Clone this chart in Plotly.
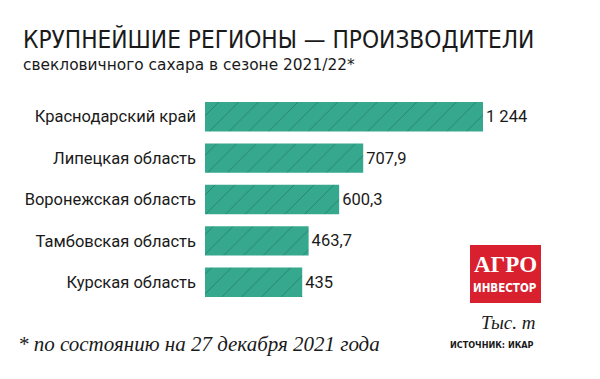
import plotly.graph_objects as go

regions = ["Краснодарский край", "Липецкая область", "Воронежская область",
           "Тамбовская область", "Курская область"]
values = [1244, 707.9, 600.3, 463.7, 435]
value_labels = ["1 244", "707,9", "600,3", "463,7", "435"]

title = "КРУПНЕЙШИЕ РЕГИОНЫ — ПРОИЗВОДИТЕЛИ"
subtitle = "свекловичного сахара в сезоне 2021/22*"
footnote = "* по состоянию на 27 декабря 2021 года"
unit = "Тыс. т"
source = "ИСТОЧНИК: ИКАР"

W, H = 600, 379
L, R, T, B = 205, 40, 96, 76
pw, ph = W - L - R, H - T - B

def px(x):
    return (x - L) / pw

def py(y):
    return (H - B - y) / ph

fig = go.Figure(go.Bar(
    x=values, y=regions, orientation="h",
    marker=dict(color="#36a88d", line=dict(width=0),
                pattern=dict(shape="/", fgcolor="#258570", bgcolor="#36a88d",
                             size=14, solidity=0.07, fillmode="replace")),
    text=value_labels, textposition="outside", cliponaxis=False,
    textfont=dict(family="Roboto", size=16.5, color="#1a1a1a"),
    hoverinfo="skip",
))

fig.update_layout(
    width=W, height=H, margin=dict(l=L, r=R, t=T, b=B),
    paper_bgcolor="white", plot_bgcolor="white",
    bargap=0.29, showlegend=False,
    xaxis=dict(range=[0, pw / (278 / 1244)], visible=False, fixedrange=True),
    yaxis=dict(autorange="reversed", showgrid=False, zeroline=False, showline=False,
               ticks="", ticklabelstandoff=8, fixedrange=True,
               tickfont=dict(family="Roboto", size=16.5, color="#1a1a1a")),
)

ann = [
    dict(text=title, x=px(21), y=py(56), xanchor="left", yanchor="bottom",
         font=dict(family="DejaVu Sans Condensed", size=24.2, color="#1a1a1a")),
    dict(text=subtitle, x=px(21), y=py(76), xanchor="left", yanchor="bottom",
         font=dict(family="DejaVu Sans", size=15.4, color="#1a1a1a")),
    dict(text="<i>" + footnote + "</i>", x=px(16), y=py(358), xanchor="left", yanchor="bottom",
         font=dict(family="Liberation Serif", size=21, color="#1a1a1a")),
    dict(text="<i>" + unit + "</i>", x=px(537), y=py(335), xanchor="right", yanchor="bottom",
         font=dict(family="Liberation Serif", size=19, color="#1a1a1a")),
    dict(text="<b>" + source + "</b>", x=px(536), y=py(352), xanchor="right", yanchor="bottom",
         font=dict(family="DejaVu Sans Condensed", size=9, color="#1a1a1a")),
    dict(text="<b>АГРО</b>", x=px(505), y=py(279), xanchor="center", yanchor="bottom",
         font=dict(family="Liberation Serif", size=23, color="white")),
    dict(text="<b>ИНВЕСТОР</b>", x=px(505), y=py(297), xanchor="center", yanchor="bottom",
         font=dict(family="DejaVu Sans Condensed", size=11.5, color="white")),
]
for a in ann:
    a.update(xref="paper", yref="paper", showarrow=False)
fig.update_layout(annotations=ann)

fig.add_shape(type="rect", xref="paper", yref="paper",
              x0=px(470), x1=px(541), y0=py(303), y1=py(245),
              fillcolor="#d8202e", line=dict(width=0), layer="below")

fig.write_html("out.html", config={"displayModeBar": False},
               post_script="document.body.style.margin='0';")
